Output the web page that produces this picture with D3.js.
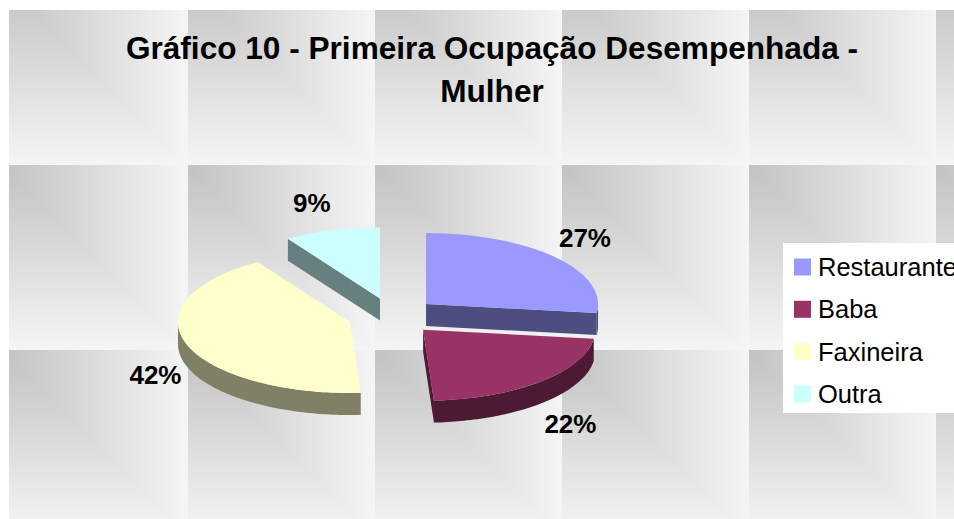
<!DOCTYPE html>
<html>
<head>
<meta charset="utf-8">
<script src="https://cdn.jsdelivr.net/npm/d3@7"></script>
<style>
  body { margin: 0; background: #fff; }
  svg { display: block; font-family: "Liberation Sans", Arial, sans-serif; }
</style>
</head>
<body>
<div id="chart"></div>
<script>
// data
var categories = ["Restaurante", "Baba", "Faxineira", "Outra"];
var shares = [27, 22, 42, 9];
var sliceColors = ["#9999ff", "#993366", "#ffffcc", "#ccffff"];
var titleLines = ["Gráfico 10 - Primeira Ocupação Desempenhada -", "Mulher"];

var W = 954, H = 519;
var svg = d3.select("#chart").append("svg")
  .attr("width", W)
  .attr("height", H);

// tiled "from corner" gradient background
var defs = svg.append("defs");
var tileW = 187, tileH = 185;
function grad(id, horizontal) {
  var g = defs.append("linearGradient").attr("id", id)
    .attr("x1", 0).attr("y1", 0)
    .attr("x2", horizontal ? 1 : 0).attr("y2", horizontal ? 0 : 1);
  g.append("stop").attr("offset", 0).attr("stop-color", "#c2c2c2");
  g.append("stop").attr("offset", 0.45).attr("stop-color", "#d9d9d9");
  g.append("stop").attr("offset", 1).attr("stop-color", "#f5f5f5");
}
grad("gh", true);
grad("gv", false);
var pat = defs.append("pattern").attr("id", "tile")
  .attr("patternUnits", "userSpaceOnUse")
  .attr("x", 1).attr("y", -20)
  .attr("width", tileW).attr("height", tileH);
pat.append("rect").attr("width", tileW).attr("height", tileH).attr("fill", "url(#gv)");
pat.append("path")
  .attr("d", "M0,0L" + tileW + ",0L" + tileW + "," + tileH + "Z")
  .attr("fill", "url(#gh)");

svg.append("rect")
  .attr("x", 9).attr("y", 10)
  .attr("width", W - 9).attr("height", H - 10)
  .attr("fill", "url(#tile)");

// title
svg.append("g").selectAll("text")
  .data(titleLines)
  .enter()
  .append("text")
  .attr("x", 492)
  .attr("y", function (d, i) { return 59 + i * 43; })
  .attr("text-anchor", "middle")
  .style("font-size", "31.6px")
  .style("font-weight", "bold")
  .text(function (d) { return d; });

// 3d pie
var cx = 392.5, cy = 316.3, rx = 172, ry = 71, depth = 22, explode = 0.26;
var color = d3.scaleOrdinal().domain(categories).range(sliceColors);
var total = d3.sum(shares);
var pct = d3.format(".0%");

var arcs = d3.pie().sort(null).startAngle(0).endAngle(2 * Math.PI)(shares);
arcs.forEach(function (a, i) {
  a.name = categories[i];
  var m = (a.startAngle + a.endAngle) / 2;
  a.mid = m;
  a.ox = explode * rx * Math.sin(m);
  a.oy = -explode * ry * Math.cos(m);
});

function pt(a, ang, dy) {
  return [cx + a.ox + rx * Math.sin(ang), cy + a.oy - ry * Math.cos(ang) + (dy || 0)];
}
function arcPts(a, a0, a1, dy) {
  var n = Math.max(2, Math.ceil((a1 - a0) / 0.02));
  return d3.range(n + 1).map(function (k) {
    return pt(a, a0 + (a1 - a0) * k / n, dy);
  });
}
function shade(c) {
  var r = d3.rgb(c);
  return d3.rgb(r.r * 0.5, r.g * 0.5, r.b * 0.5).toString();
}
var line = d3.line();

var pieG = svg.append("g");
// back to front
var order = arcs.slice().sort(function (p, q) {
  return -Math.cos(p.mid) - -Math.cos(q.mid);
});
order.forEach(function (a) {
  var g = pieG.append("g");
  var side = shade(color(a.name));
  var apex = [cx + a.ox, cy + a.oy];
  // radial cut faces
  [[a.startAngle, a.startAngle - Math.PI / 2], [a.endAngle, a.endAngle + Math.PI / 2]]
    .forEach(function (f) {
      if (-Math.cos(f[1]) > 0.01) {
        var rim = pt(a, f[0]);
        g.append("path")
          .attr("d", line([apex, rim, [rim[0], rim[1] + depth], [apex[0], apex[1] + depth]]) + "Z")
          .attr("fill", side);
      }
    });
  // outer wall (front half only)
  var s = Math.max(a.startAngle, Math.PI / 2), e = Math.min(a.endAngle, 3 * Math.PI / 2);
  if (s < e) {
    var top = arcPts(a, s, e, 0), bot = arcPts(a, s, e, depth).reverse();
    g.append("path")
      .attr("d", line(top.concat(bot)) + "Z")
      .attr("fill", side);
  }
  // top face
  g.append("path")
    .attr("d", line([apex].concat(arcPts(a, a.startAngle, a.endAngle, 0))) + "Z")
    .attr("fill", color(a.name));
});

// percentage labels, pushed outside the rim
svg.append("g").selectAll("text")
  .data(arcs)
  .enter()
  .append("text")
  .attr("x", function (a) { return cx + a.ox + 1.03 * rx * Math.sin(a.mid); })
  .attr("y", function (a) {
    var c = -Math.cos(a.mid);
    return cy + a.oy + 1.4 * ry * c + (c > 0 ? depth : 0) + 9;
  })
  .attr("text-anchor", function (a) { return Math.sin(a.mid) >= 0 ? "start" : "end"; })
  .style("font-size", "26px")
  .style("font-weight", "bold")
  .text(function (a) { return pct(a.value / total); });

// legend
var legend = svg.append("g");
legend.append("rect")
  .attr("x", 783).attr("y", 243)
  .attr("width", W - 783).attr("height", 170)
  .attr("fill", "#fff");
var rows = legend.selectAll("g.row")
  .data(categories)
  .enter()
  .append("g")
  .attr("class", "row")
  .attr("transform", function (d, i) { return "translate(0," + (267 + i * 42.3) + ")"; });
rows.append("rect")
  .attr("x", 794).attr("y", -8.5)
  .attr("width", 17).attr("height", 17)
  .attr("fill", function (d) { return color(d); });
rows.append("text")
  .attr("x", 818).attr("y", 9)
  .style("font-size", "25.5px")
  .text(function (d) { return d; });
</script>
</body>
</html>
